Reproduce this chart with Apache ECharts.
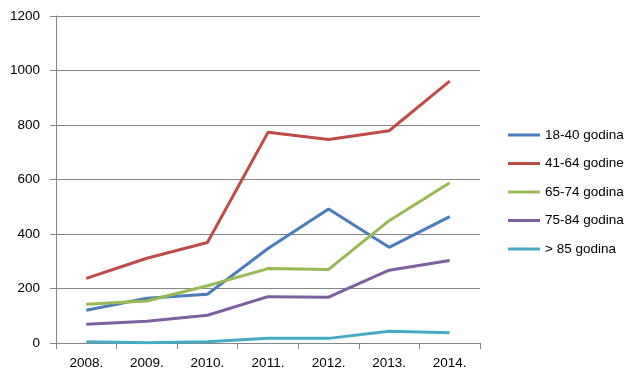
<!DOCTYPE html>
<html>
<head>
<meta charset="utf-8">
<script src="https://cdn.jsdelivr.net/npm/echarts@6/dist/echarts.min.js"></script>
<style>html,body{margin:0;padding:0;background:#fff;}#c{width:639px;height:383px;}</style>
</head>
<body>
<div id="c"></div>
<script>
var categories = ['2008.', '2009.', '2010.', '2011.', '2012.', '2013.', '2014.'];
var seriesNames = ['18-40 godina', '41-64 godine', '65-74 godina', '75-84 godina', '> 85 godina'];
var s1840 = [120, 164, 179, 347, 492, 351, 464];
var s4164 = [237, 311, 369, 773, 747, 779, 961];
var s6574 = [142, 154, 210, 273, 270, 449, 588];
var s7584 = [69, 80, 102, 170, 168, 267, 303];
var s85 = [5, 1, 5, 17, 17, 43, 38];
var colors = ['#4A7EBB', '#BE4B48', '#98B954', '#7D60A0', '#46AAC5'];
var yTicks = {min: 0, max: 1200, interval: 200};

var dataSets = [s1840, s4164, s6574, s7584, s85];
var font = 'Liberation Sans, Arial, sans-serif';
var chart = echarts.init(document.getElementById('c'));
chart.setOption({
  animation: false,
  color: colors,
  grid: {left: 56, right: 159, top: 16, bottom: 40},
  legend: {
    orient: 'vertical', left: 503, top: 122,
    itemWidth: 32, itemHeight: 3, itemGap: 12.5, icon: 'rect',
    textStyle: {fontFamily: font, fontSize: 13.5, color: '#000', lineHeight: 16},
    data: seriesNames
  },
  xAxis: {
    type: 'category', data: categories, boundaryGap: true,
    axisLine: {lineStyle: {color: '#868686', width: 1}},
    axisTick: {show: true, length: 6, lineStyle: {color: '#868686'}},
    axisLabel: {fontFamily: font, fontSize: 13.5, color: '#000', margin: 13}
  },
  yAxis: {
    type: 'value', min: yTicks.min, max: yTicks.max, interval: yTicks.interval,
    axisLine: {show: true, lineStyle: {color: '#868686', width: 1}},
    axisTick: {show: true, length: 6, lineStyle: {color: '#868686'}},
    splitLine: {lineStyle: {color: '#868686', width: 1}},
    axisLabel: {fontFamily: font, fontSize: 13.5, color: '#000', margin: 16,
      formatter: function (v) { return String(v); }}
  },
  series: dataSets.map(function (d, i) {
    return {
      name: seriesNames[i], type: 'line', data: d,
      symbol: 'none', lineStyle: {width: 3, color: colors[i]},
      itemStyle: {color: colors[i]}
    };
  })
});
</script>
</body>
</html>
